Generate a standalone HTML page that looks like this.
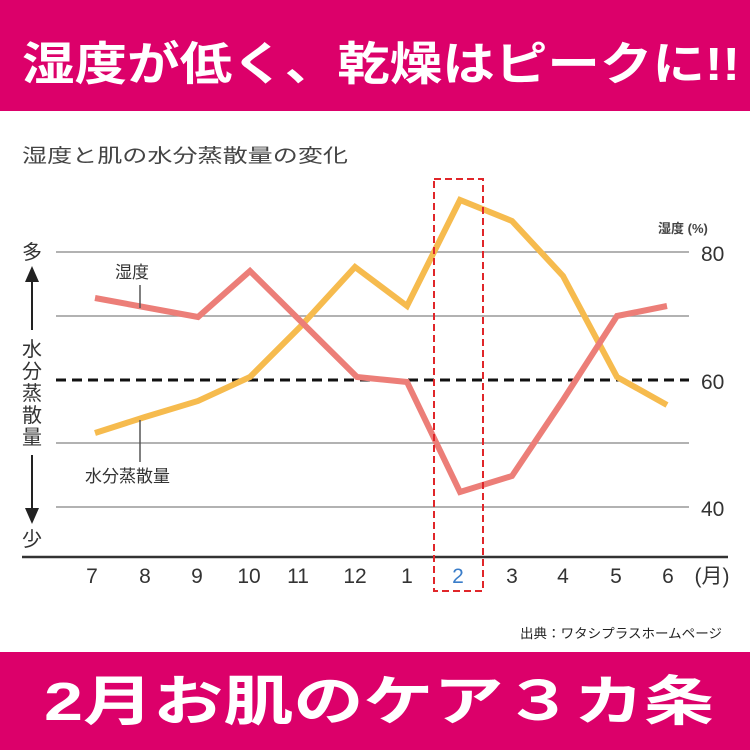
<!DOCTYPE html>
<html><head><meta charset="utf-8"><style>
html,body{margin:0;padding:0;background:#fff;}
svg{display:block;}
</style></head><body>
<svg width="750" height="750" viewBox="0 0 750 750" xmlns="http://www.w3.org/2000/svg" font-family="'Liberation Sans','Noto Sans CJK JP',sans-serif">
<rect x="0" y="0" width="750" height="111" fill="#dc006a"/>
<text x="22" y="80" font-size="46" font-weight="bold" fill="#fff" textLength="718" lengthAdjust="spacingAndGlyphs">湿度が低く、乾燥はピークに!!</text>
<rect x="0" y="652" width="750" height="98" fill="#dc006a"/>
<text x="44" y="720" font-size="54" font-weight="bold" fill="#fff" textLength="670" lengthAdjust="spacingAndGlyphs">2月お肌のケア３カ条</text>
<text x="22" y="162" font-size="19" fill="#444" textLength="326" lengthAdjust="spacingAndGlyphs">湿度と肌の水分蒸散量の変化</text>
<g stroke="#999" stroke-width="1.5">
<line x1="56" y1="252" x2="689" y2="252"/>
<line x1="56" y1="316" x2="689" y2="316"/>
<line x1="56" y1="443" x2="689" y2="443"/>
<line x1="56" y1="507" x2="689" y2="507"/>
</g>
<line x1="56" y1="380" x2="689" y2="380" stroke="#111" stroke-width="3" stroke-dasharray="10,6"/>
<line x1="22" y1="557" x2="728" y2="557" stroke="#333" stroke-width="2.5"/>
<g font-size="21" fill="#333">
<text x="701" y="261">80</text><text x="701" y="389">60</text><text x="701" y="516">40</text>
</g>
<text x="658" y="233" font-size="13" font-weight="bold" fill="#444">湿度 (%)</text>
<g font-size="21" fill="#333" text-anchor="middle">
<text x="92" y="583">7</text><text x="145" y="583">8</text><text x="197" y="583">9</text><text x="249" y="583">10</text><text x="298" y="583">11</text><text x="355" y="583">12</text><text x="407" y="583">1</text><text x="458" y="583" fill="#3a7dc9">2</text><text x="512" y="583">3</text><text x="563" y="583">4</text><text x="616" y="583">5</text><text x="668" y="583">6</text><text x="712" y="583">(月)</text>
</g>
<polyline points="95,433 145,417 198,401 250,377 300,327 355,267 407,306 460,200 512,221 563,276 617,377 667,405" fill="none" stroke="#f6bb4e" stroke-width="6"/>
<polyline points="95,298 198,317 250,271 357,377 407,382 460,492 512,476 563,400 617,316 667,306" fill="none" stroke="#ec7e78" stroke-width="6"/>
<rect x="434" y="179" width="49" height="412" fill="none" stroke="#e0262a" stroke-width="2" stroke-dasharray="7,4"/>
<text x="115" y="278" font-size="17" fill="#333">湿度</text>
<line x1="140" y1="285" x2="140" y2="308" stroke="#555" stroke-width="1.5"/>
<text x="85" y="482" font-size="17" fill="#333">水分蒸散量</text>
<line x1="140" y1="420" x2="140" y2="462" stroke="#555" stroke-width="1.5"/>
<g font-size="20" fill="#333" text-anchor="middle">
<text x="32" y="259">多</text>
<text x="32" y="546">少</text>
<text x="32" y="356">水</text><text x="32" y="378">分</text><text x="32" y="400">蒸</text><text x="32" y="422">散</text><text x="32" y="444">量</text>
</g>
<line x1="32" y1="280" x2="32" y2="330" stroke="#222" stroke-width="2"/>
<polygon points="25,282 39,282 32,266" fill="#222"/>
<line x1="32" y1="455" x2="32" y2="510" stroke="#222" stroke-width="2"/>
<polygon points="25,508 39,508 32,524" fill="#222"/>
<text x="520" y="638" font-size="13" fill="#222" textLength="202" lengthAdjust="spacingAndGlyphs">出典：ワタシプラスホームページ</text>
</svg>
</body></html>
